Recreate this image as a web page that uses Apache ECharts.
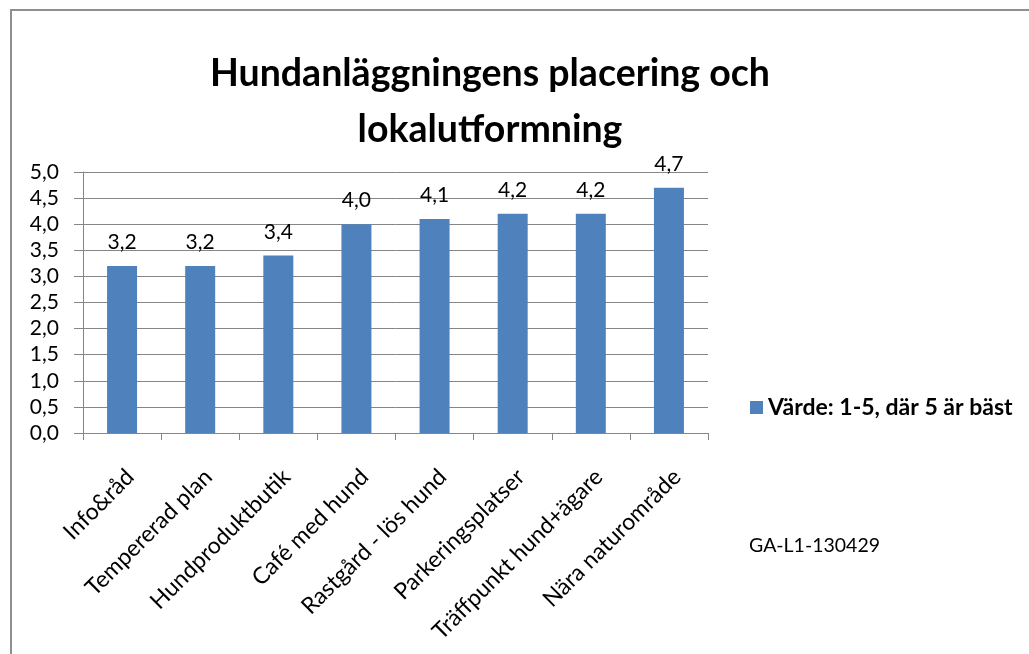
<!DOCTYPE html>
<html>
<head>
<meta charset="utf-8">
<script src="https://cdn.jsdelivr.net/npm/echarts@6/dist/echarts.min.js"></script>
<style>
  html, body { margin: 0; padding: 0; background: #fff; }
  #chart { width: 1029px; height: 654px; }
</style>
</head>
<body>
<div id="chart"></div>
<script>
// data
const categories = [
  "Info&råd",
  "Tempererad plan",
  "Hundproduktbutik",
  "Café med hund",
  "Rastgård - lös hund",
  "Parkeringsplatser",
  "Träffpunkt hund+ägare",
  "Nära naturområde"
];
const values = [3.2, 3.2, 3.4, 4.0, 4.1, 4.2, 4.2, 4.7];
const seriesName = "Värde: 1-5, där 5 är bäst";

const FONT = 'Lato, "Open Sans", sans-serif';
const comma = v => v.toFixed(1).replace(".", ",");

const chart = echarts.init(document.getElementById("chart"));
chart.setOption({
  animation: false,
  title: {
    text: "Hundanläggningens placering och\nlokalutformning",
    left: 485,
    textAlign: "center",
    top: 41,
    textStyle: {
      fontFamily: FONT,
      fontSize: 37.5,
      fontWeight: "bold",
      color: "#000",
      lineHeight: 56
    }
  },
  legend: {
    left: 745,
    top: 391,
    icon: "rect",
    itemWidth: 13,
    itemHeight: 13,
    itemGap: 4,
    data: [seriesName],
    textStyle: { fontFamily: FONT, fontSize: 23, fontWeight: "bold", color: "#000" }
  },
  graphic: [
    {
      type: "rect",
      shape: { x: 11, y: 10, width: 1040, height: 680 },
      style: { fill: null, stroke: "#8f8f8f", lineWidth: 2 }
    },
    {
      type: "text",
      left: 749,
      top: 536,
      style: { text: "GA-L1-130429", fontFamily: FONT, fontSize: 19.5, fill: "#000" }
    }
  ],
  grid: { left: 83, top: 172, right: 321, bottom: 221 },
  xAxis: {
    type: "category",
    data: categories,
    axisLine: { lineStyle: { color: "#868686", width: 1 } },
    axisTick: { show: true, length: 7, lineStyle: { color: "#868686" } },
    axisLabel: {
      interval: 0,
      rotate: 45,
      margin: 32,
      align: "right",
      verticalAlign: "top",
      fontFamily: FONT,
      fontSize: 23,
      color: "#000"
    }
  },
  yAxis: {
    type: "value",
    min: 0,
    max: 5,
    interval: 0.5,
    axisLine: { show: true, lineStyle: { color: "#868686" } },
    axisTick: { show: true, length: 9, lineStyle: { color: "#868686" } },
    splitLine: { lineStyle: { color: "#868686" } },
    axisLabel: {
      formatter: comma,
      margin: 24,
      fontFamily: FONT,
      fontSize: 21,
      color: "#000"
    }
  },
  series: [
    {
      name: seriesName,
      type: "bar",
      data: values,
      barWidth: 30,
      itemStyle: { color: "#4F81BD" },
      label: {
        show: true,
        position: "top",
        distance: 13,
        formatter: p => comma(p.value),
        fontFamily: FONT,
        fontSize: 21,
        color: "#000"
      }
    }
  ]
});
</script>
</body>
</html>
